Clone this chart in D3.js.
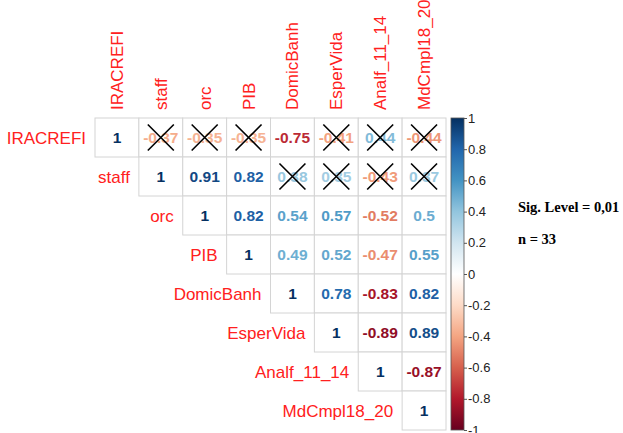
<!DOCTYPE html>
<html>
<head>
<meta charset="utf-8">
<script src="https://cdn.jsdelivr.net/npm/d3@7"></script>
<style>
  body { margin: 0; background: #fff; }
  text { font-family: "Liberation Sans", Arial, sans-serif; }
</style>
</head>
<body>
<div id="chart"></div>
<script>
const vars = ["IRACREFI", "staff", "orc", "PIB", "DomicBanh", "EsperVida", "Analf_11_14", "MdCmpl18_20"];

// upper triangle, row by row (starting at the diagonal)
const rowIRACREFI = [1, -0.37, -0.35, -0.35, -0.75, -0.41, 0.44, -0.44];
const rowStaff = [1, 0.91, 0.82, 0.38, 0.35, -0.43, 0.37];
const rowOrc = [1, 0.82, 0.54, 0.57, -0.52, 0.5];
const rowPIB = [1, 0.49, 0.52, -0.47, 0.55];
const rowDomicBanh = [1, 0.78, -0.83, 0.82];
const rowEsperVida = [1, -0.89, 0.89];
const rowAnalf = [1, -0.87];
const rowMdCmpl = [1];

// not significant at 0.01 (crossed out)
const crossIRACREFI = [0, 1, 1, 1, 0, 1, 1, 1];
const crossStaff = [0, 0, 0, 1, 1, 1, 1];

const legendTicks = [-1, -0.8, -0.6, -0.4, -0.2, 0, 0.2, 0.4, 0.6, 0.8, 1];
const sigText = "Sig. Level = 0,01";
const nText = "n = 33";

const rows = [rowIRACREFI, rowStaff, rowOrc, rowPIB, rowDomicBanh, rowEsperVida, rowAnalf, rowMdCmpl];
const crosses = [crossIRACREFI, crossStaff];

const cells = [];
rows.forEach((r, i) => {
    r.forEach((v, k) => {
        const j = i + k;
        const cr = crosses[i] ? crosses[i][k] === 1 : false;
        cells.push({ row: vars[i], col: vars[j], value: v, cross: cr });
    });
});

const width = 623, height = 433;
const svg = d3.select("#chart").append("svg")
    .attr("width", width)
    .attr("height", height);

const x = d3.scaleBand().domain(vars).range([95, 446]);
const y = d3.scaleBand().domain(vars).range([118, 430]);

const color = d3.scaleLinear()
    .domain(d3.range(11).map(i => -1 + i * 0.2))
    .range(["#67001F", "#B2182B", "#D6604D", "#F4A582", "#FDDBC7", "#FFFFFF",
            "#D1E5F0", "#92C5DE", "#4393C3", "#2166AC", "#053061"]);

// cell borders
svg.append("g").selectAll("rect")
    .data(cells)
    .enter()
    .append("rect")
    .attr("x", d => x(d.col))
    .attr("y", d => y(d.row))
    .attr("width", x.bandwidth())
    .attr("height", y.bandwidth())
    .attr("fill", "#fff")
    .attr("stroke", "#d4d4d4")
    .attr("stroke-width", 1);

// numbers
svg.append("g").selectAll("text")
    .data(cells)
    .enter()
    .append("text")
    .attr("x", d => x(d.col) + x.bandwidth() / 2)
    .attr("y", d => y(d.row) + y.bandwidth() / 2)
    .attr("dy", "0.36em")
    .attr("text-anchor", "middle")
    .style("font-size", "15.5px")
    .style("font-weight", "bold")
    .attr("fill", d => color(d.value))
    .text(d => d.value === 1 ? "1" : String(d.value));

// crosses
const crossG = svg.append("g");
cells.filter(d => d.cross).forEach(d => {
    const cx = x(d.col) + x.bandwidth() / 2;
    const cy = y(d.row) + y.bandwidth() / 2;
    const h = 13;
    crossG.append("path")
        .attr("d", `M${cx - h},${cy - h}L${cx + h},${cy + h}M${cx - h},${cy + h}L${cx + h},${cy - h}`)
        .attr("stroke", "#000")
        .attr("stroke-width", 1.6)
        .attr("fill", "none");
});

// row labels
svg.append("g").selectAll("text")
    .data(vars)
    .enter()
    .append("text")
    .attr("x", d => x(d) - 9)
    .attr("y", d => y(d) + y.bandwidth() / 2)
    .attr("dy", "0.36em")
    .attr("text-anchor", "end")
    .attr("fill", "#ff2020")
    .style("font-size", "17px")
    .text(d => d);

// column labels
svg.append("g").selectAll("text")
    .data(vars)
    .enter()
    .append("text")
    .attr("transform", d => `translate(${x(d) + x.bandwidth() / 2 + 6}, 110) rotate(-90)`)
    .attr("text-anchor", "start")
    .attr("fill", "#ff2020")
    .style("font-size", "17px")
    .text(d => d);

// colour bar
const yLeg = d3.scaleLinear().domain([-1, 1]).range([430, 118]);
const defs = svg.append("defs");
const grad = defs.append("linearGradient")
    .attr("id", "cbar")
    .attr("x1", 0).attr("y1", 1).attr("x2", 0).attr("y2", 0);
color.domain().forEach(v => {
    grad.append("stop")
        .attr("offset", (v + 1) / 2)
        .attr("stop-color", color(v));
});
svg.append("rect")
    .attr("x", 451)
    .attr("y", yLeg(1))
    .attr("width", 13)
    .attr("height", yLeg(-1) - yLeg(1))
    .attr("fill", "url(#cbar)")
    .attr("stroke", "#555")
    .attr("stroke-width", 0.8);

const legAxis = svg.append("g")
    .attr("transform", "translate(464,0)")
    .call(d3.axisRight(yLeg).tickValues(legendTicks).tickSize(3).tickFormat(d => d === 0 ? "0" : String(+d.toFixed(1))));
legAxis.select(".domain").remove();
legAxis.selectAll("line").attr("stroke", "#555");
legAxis.selectAll("text")
    .attr("x", 4)
    .style("font-size", "13px")
    .style("font-family", "Liberation Sans, Arial, sans-serif")
    .attr("fill", "#222");

svg.append("text")
    .attr("x", 518)
    .attr("y", 212)
    .style("font-family", "Liberation Serif, serif")
    .style("font-weight", "bold")
    .style("font-size", "14.5px")
    .text(sigText);

svg.append("text")
    .attr("x", 518)
    .attr("y", 244)
    .style("font-family", "Liberation Serif, serif")
    .style("font-weight", "bold")
    .style("font-size", "14.5px")
    .text(nText);
</script>
</body>
</html>
